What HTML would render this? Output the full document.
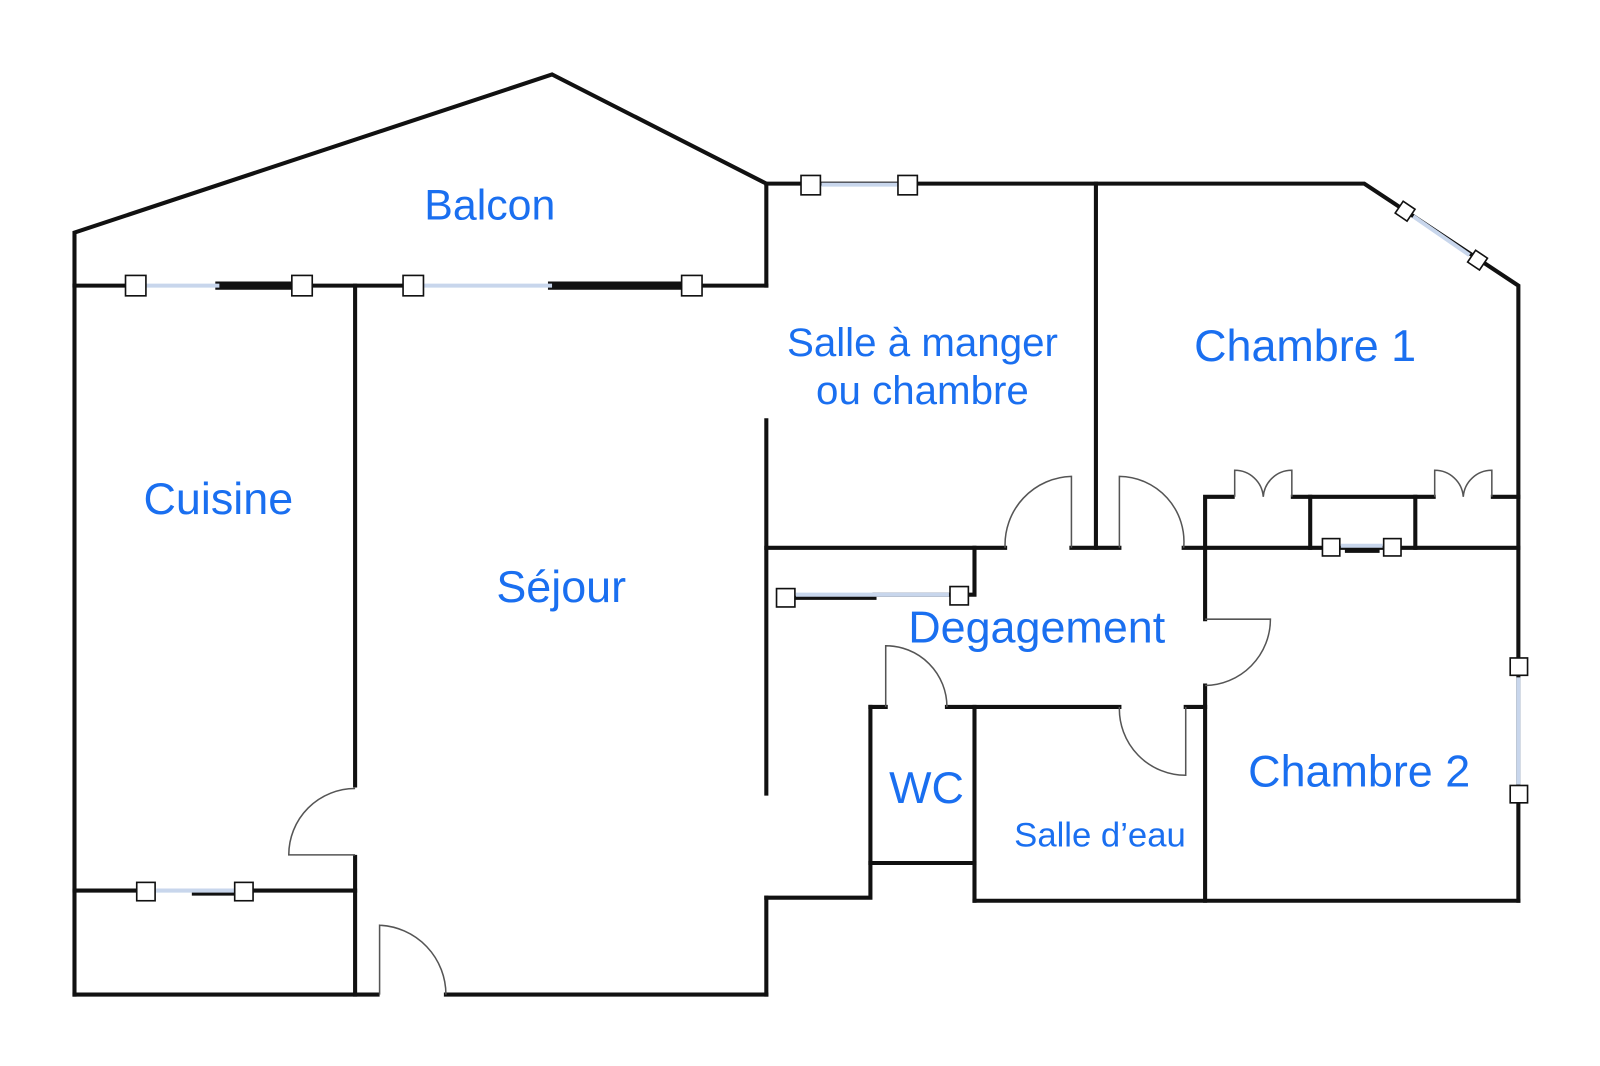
<!DOCTYPE html>
<html><head><meta charset="utf-8"><style>
html,body{margin:0;padding:0;background:#fff;width:1600px;height:1066px;overflow:hidden}
svg text{font-family:"Liberation Sans",sans-serif;fill:#1a6ff0}
</style></head><body>
<svg width="1600" height="1066" viewBox="0 0 1568 1045" preserveAspectRatio="none" xmlns="http://www.w3.org/2000/svg">
<g stroke="#111" stroke-width="4" fill="none" stroke-linecap="square">
<polyline points="73,280 73,228 541,73 751,180 751,280"/>
<line x1="73" y1="280" x2="133" y2="280"/>
<line x1="215" y1="280" x2="296" y2="280" stroke-width="8"/>
<line x1="296" y1="280" x2="405" y2="280"/>
<line x1="541" y1="280" x2="678" y2="280" stroke-width="8"/>
<line x1="678" y1="280" x2="751" y2="280"/>
<line x1="73" y1="280" x2="73" y2="975"/>
<line x1="73" y1="975" x2="370" y2="975"/>
<line x1="437" y1="975" x2="751" y2="975"/>
<line x1="751" y1="880" x2="751" y2="975"/>
<line x1="751" y1="412" x2="751" y2="778"/>
<polyline points="751,880 853,880 853,693"/>
<line x1="348" y1="280" x2="348" y2="770"/>
<line x1="348" y1="840" x2="348" y2="975"/>
<line x1="73" y1="873" x2="143" y2="873"/>
<line x1="240" y1="873" x2="348" y2="873"/>
<line x1="190" y1="876" x2="240" y2="876"/>
<polyline points="751,180 1337,180 1488,280 1488,883"/>
<line x1="1074" y1="180" x2="1074" y2="537"/>
<line x1="751" y1="537" x2="985" y2="537"/>
<line x1="1050" y1="537" x2="1097" y2="537"/>
<line x1="1160" y1="537" x2="1488" y2="537"/>
<polyline points="955,537 955,583 940,583"/>
<line x1="770" y1="586" x2="857" y2="586"/>
<line x1="857" y1="583" x2="940" y2="583"/>
<polyline points="1181,883 1181,672"/>
<polyline points="1181,607 1181,487 1208,487"/>
<line x1="1267" y1="487" x2="1405" y2="487"/>
<line x1="1463" y1="487" x2="1488" y2="487"/>
<line x1="1284" y1="487" x2="1284" y2="537"/>
<line x1="1387" y1="487" x2="1387" y2="537"/>
<line x1="1320" y1="540" x2="1350" y2="540"/>
<line x1="853" y1="693" x2="868" y2="693"/>
<line x1="928" y1="693" x2="1097" y2="693"/>
<line x1="1162" y1="693" x2="1181" y2="693"/>
<line x1="955" y1="693" x2="955" y2="883"/>
<line x1="853" y1="846" x2="955" y2="846"/>
<line x1="955" y1="883" x2="1488" y2="883"/>
</g>
<g stroke="#c8d6ec" stroke-width="4" fill="none">
<line x1="143" y1="280" x2="215" y2="280"/>
<line x1="415" y1="280" x2="541" y2="280"/>
<line x1="805" y1="181" x2="880" y2="181"/>
<line x1="1385" y1="212" x2="1440" y2="250"/>
<line x1="1488" y1="664" x2="1488" y2="769"/>
<line x1="780" y1="583" x2="930" y2="583"/>
<line x1="153" y1="873" x2="230" y2="873"/>
<line x1="1314" y1="535" x2="1355" y2="535"/>
</g>
<g stroke="#111" stroke-width="1.6" fill="#fff">
<rect x="123" y="270" width="20" height="20"/>
<rect x="286" y="270" width="20" height="20"/>
<rect x="395" y="270" width="20" height="20"/>
<rect x="668" y="270" width="20" height="20"/>
<rect x="785" y="172" width="19" height="19"/>
<rect x="880" y="172" width="19" height="19"/>
<rect x="1370" y="200" width="14" height="14" transform="rotate(34 1377 207)"/>
<rect x="1441" y="248" width="14" height="14" transform="rotate(34 1448 255)"/>
<rect x="1480" y="645" width="17" height="17"/>
<rect x="1480" y="770" width="17" height="17"/>
<rect x="761" y="577" width="18" height="18"/>
<rect x="931" y="575" width="18" height="18"/>
<rect x="134" y="865" width="18" height="18"/>
<rect x="230" y="865" width="18" height="18"/>
<rect x="1296" y="528" width="17" height="17"/>
<rect x="1356" y="528" width="17" height="17"/>
</g>
<g stroke="#555" stroke-width="1.5" fill="none">
<path d="M372,975 V907 A68,68 0 0 1 437,975"/>
<path d="M348,838 H283 A65,65 0 0 1 348,773"/>
<path d="M1050,537 V467 A67,67 0 0 0 985,537"/>
<path d="M1097,537 V467 A64,64 0 0 1 1160,537"/>
<path d="M1181,607 H1245 A65,65 0 0 1 1181,672"/>
<path d="M868,693 V633 A60,60 0 0 1 928,693"/>
<path d="M1162,693 V760 A65,65 0 0 1 1097,693"/>
<path d="M1210,487 V461 A28,28 0 0 1 1238,487 A28,28 0 0 1 1266,461 V487"/>
<path d="M1406,487 V461 A28,28 0 0 1 1434,487 A28,28 0 0 1 1462,461 V487"/>
</g>
<g font-size="44">
<text x="480" y="215" text-anchor="middle" font-size="42">Balcon</text>
<text x="904" y="349" text-anchor="middle" font-size="39.5">Salle à manger</text>
<text x="904" y="396" text-anchor="middle" font-size="39.5">ou chambre</text>
<text x="1279" y="354" text-anchor="middle">Chambre 1</text>
<text x="214" y="504" text-anchor="middle">Cuisine</text>
<text x="550" y="590" text-anchor="middle">Séjour</text>
<text x="1016" y="630" text-anchor="middle">Degagement</text>
<text x="908" y="787" text-anchor="middle">WC</text>
<text x="1078" y="830" text-anchor="middle" font-size="34">Salle d’eau</text>
<text x="1332" y="771" text-anchor="middle">Chambre 2</text>
</g>
</svg>
</body></html>
